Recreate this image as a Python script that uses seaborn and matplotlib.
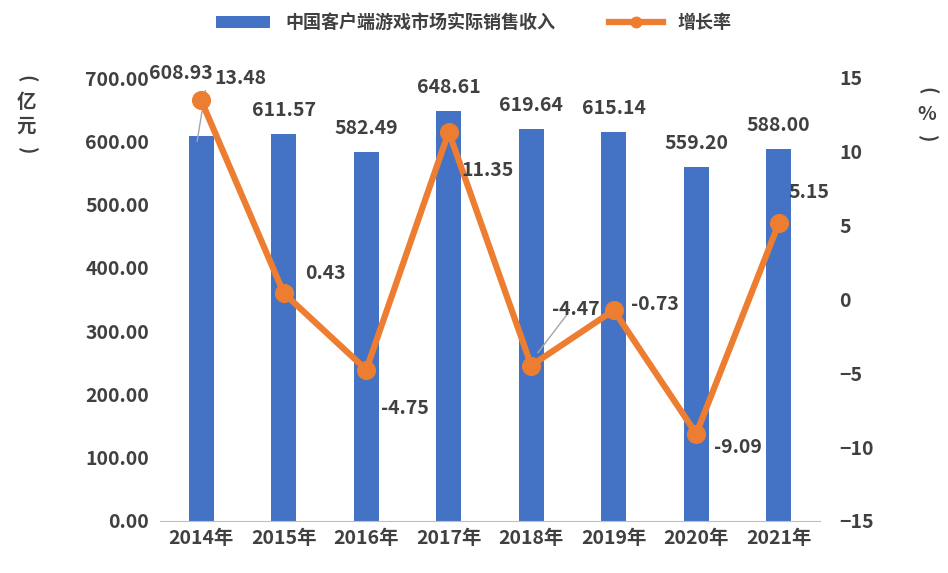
import matplotlib
matplotlib.use("Agg")
import matplotlib.pyplot as plt
import seaborn as sns
import pandas as pd
import numpy as np

years = ["2014年", "2015年", "2016年", "2017年", "2018年", "2019年", "2020年", "2021年"]
revenue = [608.93, 611.57, 582.49, 648.61, 619.64, 615.14, 559.20, 588.00]
growth = [13.48, 0.43, -4.75, 11.35, -4.47, -0.73, -9.09, 5.15]

# label offsets in points (dx, dy)
growth_offsets = [(28, 16), (30, 14), (28, -28), (28, -28), (32, 40), (30, 4), (30, -10), (22, 22)]
rev_offsets = [(-15, 38), (0, 10), (0, 10), (0, 10), (0, 10), (0, 10), (0, 10), (0, 10)]

plt.rcParams["font.family"] = "Noto Sans CJK SC"
plt.rcParams["font.weight"] = "bold"
text_color = "#404040"
blue = "#4472C4"
orange = "#ED7D31"

fig = plt.figure(figsize=(9.48, 5.73), dpi=100)
ax = fig.add_axes([160 / 948, 1 - 521 / 573, 660 / 948, 443 / 573])

df = pd.DataFrame({"year": years, "revenue": revenue, "growth": growth})
sns.barplot(data=df, x="year", y="revenue", color=blue, width=0.3, ax=ax,
            saturation=1, label="中国客户端游戏市场实际销售收入")
ax.set_ylim(0, 700)
ax.set_yticks(np.arange(0, 701, 100))
ax.set_yticklabels([f"{v:.2f}" for v in np.arange(0, 701, 100)])
ax.set_xlim(-0.5, len(years) - 0.5)
ax.set_xlabel("")
ax.set_ylabel("")
for s in ["top", "right", "left"]:
    ax.spines[s].set_visible(False)
ax.spines["bottom"].set_color("#BFBFBF")
ax.tick_params(axis="both", length=0, labelsize=14, colors=text_color, pad=8)
ax.tick_params(axis="x", labelsize=14, pad=6)
for lab in ax.get_xticklabels() + ax.get_yticklabels():
    lab.set_fontweight("bold")

ax2 = ax.twinx()
sns.lineplot(x=np.arange(len(years)), y=growth, ax=ax2, color=orange, linewidth=4.5,
             marker="o", markersize=13, markeredgecolor=orange, label="增长率")
ax2.set_ylim(-15, 15)
ax2.set_yticks(np.arange(-15, 16, 5))
for s in ["top", "right", "left", "bottom"]:
    ax2.spines[s].set_visible(False)
ax2.tick_params(axis="y", length=0, labelsize=14, colors=text_color, pad=14)
for lab in ax2.get_yticklabels():
    lab.set_fontweight("bold")
ax2.get_legend().remove()

for i, v in enumerate(revenue):
    dx, dy = rev_offsets[i]
    ax.annotate(f"{v:.2f}", (i, v), xytext=(dx, dy), textcoords="offset points",
                ha="center", va="bottom", fontsize=14, color=text_color, fontweight="bold")
ax.plot([-0.05, 0.05], [600, 680], color="#A6A6A6", lw=1)

for i, v in enumerate(growth):
    dx, dy = growth_offsets[i]
    ax2.annotate(f"{v:.2f}", (i, v), xytext=(dx, dy), textcoords="offset points",
                 ha="center", va="center", fontsize=14, color=text_color, fontweight="bold")
ax2.plot([4.08, 4.45], [-3.6, -0.9], color="#A6A6A6", lw=1)

for x, lines in [(0.028, ["亿", "元"]), (0.978, ["%"])]:
    n = len(lines)
    y0 = 0.80
    step = 0.042
    ys = [y0 + step * (n - 1) / 2 - step * k for k in range(n)]
    fig.text(x, ys[0] + step, "(", rotation=-90, ha="center", va="center",
             fontsize=14, color=text_color, fontweight="bold")
    for y, t in zip(ys, lines):
        fig.text(x, y, t, ha="center", va="center", fontsize=14,
                 color=text_color, fontweight="bold")
    fig.text(x, ys[-1] - step, ")", rotation=-90, ha="center", va="center",
             fontsize=14, color=text_color, fontweight="bold")

h1, l1 = ax.get_legend_handles_labels()
h2, l2 = ax2.get_legend_handles_labels()
if ax.get_legend():
    ax.get_legend().remove()
fig.legend(h1 + h2, l1 + l2, loc="upper center", bbox_to_anchor=(0.5, 1.005), ncol=2,
           frameon=False, handlelength=3, columnspacing=3, markerscale=0.6,
           labelcolor=text_color, prop={"weight": "bold", "size": 13})

fig.savefig("out.png", dpi=100)
